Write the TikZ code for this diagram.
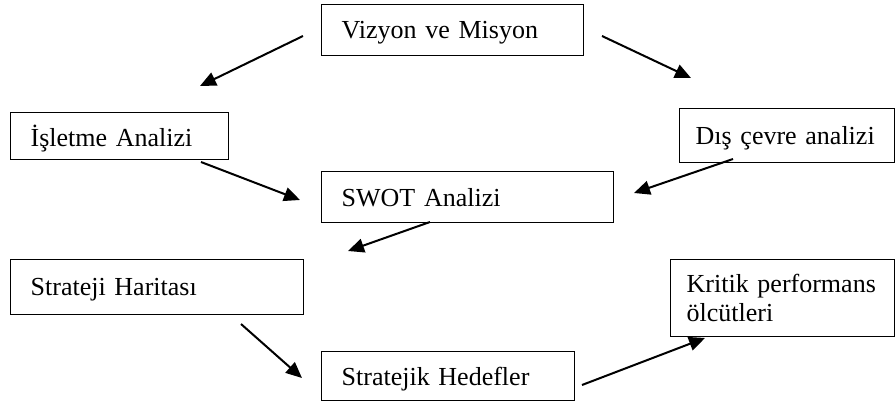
\documentclass[tikz,border=0pt]{standalone}
\usepackage{fontspec}
\setmainfont{Liberation Serif}
\usetikzlibrary{arrows.meta}
\tikzset{%
    Dbox/.style n args={2}{draw, line width=0.7pt, anchor=north west, align=left,
        inner xsep=10pt, inner ysep=2pt, text width=#1, minimum height=#2,
        text depth=0pt, font=\fontsize{13}{14.5}\selectfont},
    Darrow/.style={line width=1pt, -{Triangle[length=8pt,width=7pt]}}
}
\begin{document}
\begin{tikzpicture}[x=0.5pt,y=-0.5pt]
        \useasboundingbox (0,0) rectangle (895,401);

        % boxes
        \node [Dbox={111pt}{25.5pt}] (Nvizyon) at (321,4) {Vizyon ve Misyon};
        \node [Dbox={89pt}{23.5pt}] (Nisletme) at (10,112) {İşletme Analizi};
        \node [Dbox={91.5pt}{27pt}, inner xsep=8pt] (Ndis) at (679,108) {Dış çevre analizi};
        \node [Dbox={126pt}{25.5pt}] (Nswot) at (321,171) {SWOT Analizi};
        \node [Dbox={126.5pt}{27.5pt}] (Nharita) at (10,259) {Strateji Haritası};
        \node [Dbox={106.5pt}{24.5pt}] (Nhedef) at (321,351) {Stratejik Hedefler};
        \node [Dbox={96pt}{38.5pt}, inner xsep=8pt, text depth=] (Nkritik) at (670,259) {Kritik performans\\ölcütleri};

        % free ends of the arrows
        \path
            (303,36) coordinate (Cviz1)
            (200,86) coordinate (Cisl)
            (602,36) coordinate (Cviz2)
            (691,78) coordinate (Cdis)
            (201,162) coordinate (Cisl2)
            (300,200) coordinate (Cswot1)
            (733,159) coordinate (Cdis2)
            (634,193) coordinate (Cswot2)
            (430,222) coordinate (Cswot3)
            (348,251) coordinate (Char)
            (241,324) coordinate (Char2)
            (302,378) coordinate (Ched)
            (582,385) coordinate (Ched2)
            (705,338) coordinate (Ckrit);

        \foreach \cA/\cB in
                {Cviz1/Cisl,    Cviz2/Cdis,
                 Cisl2/Cswot1,  Cdis2/Cswot2,
                 Cswot3/Char,   Char2/Ched,
                 Ched2/Ckrit}
            \draw [Darrow] (\cA)--(\cB);

\end{tikzpicture}
\end{document}
